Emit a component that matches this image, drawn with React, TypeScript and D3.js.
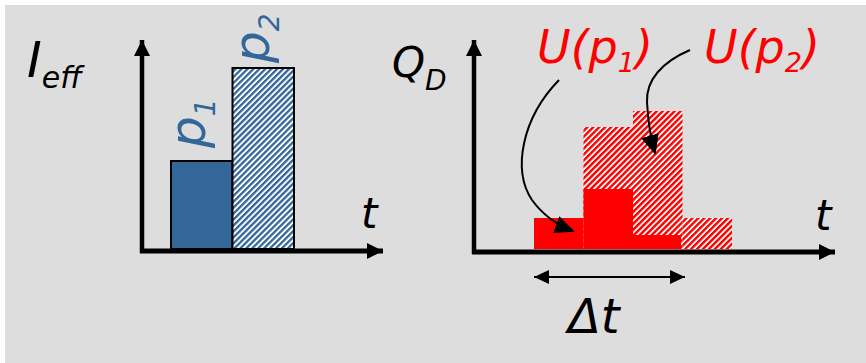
import React from "react";
import * as d3 from "d3";

// ---------- data ----------
// Left panel: effective current per priority slot (time slots, value)
const leftCategories = ["p1", "p2"];
const leftStart = [1, 2];
const leftEnd = [2, 3];
const leftValues = [44, 90.5];
const leftHatched = [false, true];

// Right panel: discharge Q_D steps over time
const uP1Start = [0, 1, 2];
const uP1End = [1, 2, 2.97];
const uP1Values = [15.5, 30, 7];

const uP2Start = [1, 2, 3];
const uP2End = [2, 3, 4];
const uP2Values = [61, 69, 15.5];

const FONT = "'DejaVu Sans', Verdana, sans-serif";
const BLUE = "#336699";
const RED = "#ff0000";

export default function App() {
  const W = 866;
  const H = 363;

  // left scales
  const xL = d3.scaleLinear().domain([1, 3]).range([171, 294]);
  const yL = d3.scaleLinear().domain([0, 100]).range([249, 49]);

  // right scales
  const xR = d3.scaleLinear().domain([0, 4]).range([534, 732]);
  const yR = d3.scaleLinear().domain([0, 100]).range([249, 49]);

  const curve1 = "M559,80 C522,118 512,170 532,200 C545,218 560,226 573,231";
  const curve2 = "M690,50 C662,62 646,80 647,102 C648,122 650,136 655,153";

  return (
    <svg
      width={W}
      height={H}
      style={{ position: "absolute", left: 0, top: 0, display: "block" }}
      fontFamily={FONT}
    >
      <defs>
        <pattern id="hatchBlue" patternUnits="userSpaceOnUse" width={4.2} height={4.2} patternTransform="rotate(45)">
          <rect width={4.2} height={4.2} fill="#ffffff" />
          <rect width={2.3} height={4.2} fill={BLUE} />
        </pattern>
        <pattern id="hatchRed" patternUnits="userSpaceOnUse" width={4.2} height={4.2} patternTransform="rotate(45)">
          <rect width={4.2} height={4.2} fill="#ffffff" />
          <rect width={2.4} height={4.2} fill={RED} />
        </pattern>
        <marker id="headBig" markerUnits="userSpaceOnUse" markerWidth={18} markerHeight={18} refX={16} refY={8} orient="auto">
          <path d="M0,0 L16,8 L0,16 Z" fill="#000" />
        </marker>
        <marker id="headSmall" markerUnits="userSpaceOnUse" markerWidth={18} markerHeight={16} refX={15} refY={7} orient="auto-start-reverse">
          <path d="M0,0 L15,7 L0,14 Z" fill="#000" />
        </marker>
        <marker id="headCurve" markerUnits="userSpaceOnUse" markerWidth={22} markerHeight={20} refX={18} refY={9} orient="auto">
          <path d="M0,0 L20,9 L0,18 Z" fill="#000" />
        </marker>
      </defs>

      <rect x={5} y={5} width={W - 5} height={H - 5} fill="#dddddd" />

      {/* ---------- Left panel ---------- */}
      {leftCategories.map((c, i) => (
        <rect
          key={c}
          x={xL(leftStart[i])}
          y={yL(leftValues[i])}
          width={xL(leftEnd[i]) - xL(leftStart[i])}
          height={yL(0) - yL(leftValues[i])}
          fill={leftHatched[i] ? "url(#hatchBlue)" : BLUE}
          stroke="#000"
          strokeWidth={2}
        />
      ))}
      {/* axes */}
      <line x1={142} y1={253} x2={142} y2={40} stroke="#000" strokeWidth={4.5} markerEnd="url(#headBig)" />
      <line x1={140} y1={251} x2={383} y2={251} stroke="#000" strokeWidth={5} markerEnd="url(#headBig)" />

      <text x={27} y={77} fontSize={50} fontStyle="italic" fill="#000">
        I<tspan fontSize={30} dy={11}>eff</tspan>
      </text>
      <text x={361} y={228} fontSize={42} fontStyle="italic" fill="#000">t</text>

      {/* rotated labels */}
      <text transform={`translate(${xL(1.55)},148) rotate(-90)`} fontSize={50} fontStyle="italic" fill={BLUE}>
        p<tspan fontSize={28} dy={10}>1</tspan>
      </text>
      <text transform={`translate(${xL(2.6)},63) rotate(-90)`} fontSize={50} fontStyle="italic" fill={BLUE}>
        p<tspan fontSize={28} dy={10}>2</tspan>
      </text>

      {/* ---------- Right panel ---------- */}
      {uP2Values.map((v, i) => (
        <rect
          key={"h" + i}
          x={xR(uP2Start[i])}
          y={yR(v)}
          width={xR(uP2End[i]) - xR(uP2Start[i])}
          height={yR(0) - yR(v)}
          fill="url(#hatchRed)"
        />
      ))}
      {uP1Values.map((v, i) => (
        <rect
          key={"s" + i}
          x={xR(uP1Start[i])}
          y={yR(v)}
          width={xR(uP1End[i]) - xR(uP1Start[i])}
          height={yR(0) - yR(v)}
          fill={RED}
        />
      ))}

      <line x1={474} y1={254} x2={474} y2={40} stroke="#000" strokeWidth={4.5} markerEnd="url(#headBig)" />
      <line x1={472} y1={252} x2={835} y2={252} stroke="#000" strokeWidth={5} markerEnd="url(#headBig)" />

      <text x={392} y={77} fontSize={42} fontStyle="italic" fill="#000">
        Q<tspan fontSize={28} dy={13}>D</tspan>
      </text>
      <text x={815} y={230} fontSize={42} fontStyle="italic" fill="#000">t</text>

      {/* delta t */}
      <line
        x1={xR(0)}
        y1={277}
        x2={xR(3.05)}
        y2={277}
        stroke="#000"
        strokeWidth={2}
        markerStart="url(#headSmall)"
        markerEnd="url(#headSmall)"
      />
      <text x={568} y={333} fontSize={48} fontStyle="italic" fill="#000">Δt</text>

      {/* U labels */}
      <text x={537} y={63} fontSize={46} fontStyle="italic" fill={RED}>
        U(p<tspan fontSize={27} dy={9}>1</tspan><tspan dy={-9}>)</tspan>
      </text>
      <text x={704} y={63} fontSize={46} fontStyle="italic" fill={RED}>
        U(p<tspan fontSize={27} dy={9}>2</tspan><tspan dy={-9}>)</tspan>
      </text>

      {/* curved pointers */}
      <path d={curve1} fill="none" stroke="#000" strokeWidth={2} markerEnd="url(#headCurve)" />
      <path d={curve2} fill="none" stroke="#000" strokeWidth={2} markerEnd="url(#headCurve)" />
    </svg>
  );
}
